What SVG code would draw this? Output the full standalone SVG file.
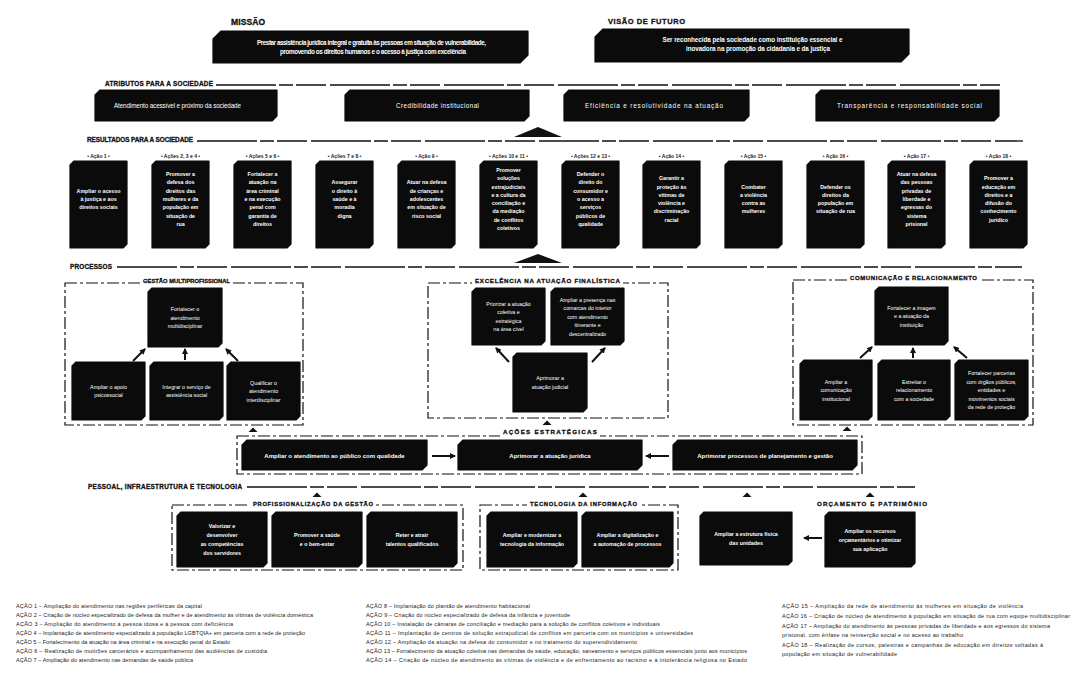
<svg xmlns="http://www.w3.org/2000/svg" width="1072" height="688" viewBox="0 0 1072 688">
<defs>
<style>
.box{fill:#0b0b0b;stroke:#0b0b0b;stroke-width:1.2;stroke-linejoin:round}
.lbl{font-family:"Liberation Sans",Arial,sans-serif;font-weight:bold;fill:#111;stroke:#111;stroke-width:0.3}
.cap{font-family:"Liberation Sans",Arial,sans-serif;font-size:5px;font-weight:bold;fill:#222;text-anchor:middle}
.tw{font-family:"Liberation Sans",Arial,sans-serif;fill:#fff;text-anchor:middle}
.b{font-weight:bold}
.sec{fill:none;stroke:#111;stroke-width:1.3;stroke-dasharray:60 3 14 3 30 4}
.grp{fill:none;stroke:#111;stroke-width:1.2;stroke-dasharray:12 3 3 3}
.leg{font-family:"Liberation Sans",Arial,sans-serif;font-size:5.5px;fill:#222}
.ar{fill:none;stroke:#111;stroke-width:2;marker-end:url(#ah)}
.tri{fill:#111}
</style>
<marker id="ah" viewBox="0 0 6 6" refX="5" refY="3" markerWidth="6" markerHeight="6" markerUnits="userSpaceOnUse" orient="auto"><path d="M0,0 L6,3 L0,6 Z" fill="#111"/></marker>
</defs>
<rect width="1072" height="688" fill="#fff"/>

<!-- section headers and separators -->
<g id="sections">
<text class="lbl" x="231" y="25" font-size="8.5" textLength="34">MISSÃO</text>
<text class="lbl" x="608" y="23.5" font-size="7.5" textLength="77">VISÃO DE FUTURO</text>
<text class="lbl" x="105" y="86" font-size="6.4" textLength="108">ATRIBUTOS PARA A SOCIEDADE</text>
<line class="sec" x1="216" y1="85" x2="1000" y2="85"/>
<text class="lbl" x="87" y="142" font-size="6.4" textLength="106">RESULTADOS PARA A SOCIEDADE</text>
<line class="sec" x1="197" y1="141" x2="1023" y2="141"/>
<text class="lbl" x="70" y="268.5" font-size="6.4" textLength="42">PROCESSOS</text>
<line class="sec" x1="117" y1="267" x2="1022" y2="267"/>
<text class="lbl" x="88" y="488.5" font-size="6.4" textLength="154">PESSOAL, INFRAESTRUTURA E TECNOLOGIA</text>
<line class="sec" x1="247" y1="487" x2="915" y2="487"/>
</g>

<!-- group containers -->
<g id="containers">
<rect class="grp" x="65" y="283" width="238" height="142"/>
<rect fill="#fff" x="140" y="276" width="93" height="9"/>
<text class="lbl" x="143" y="283" font-size="5.8" textLength="87">GESTÃO MULTIPROFISSIONAL</text>
<rect class="grp" x="428" y="283" width="240" height="135"/>
<rect fill="#fff" x="472" y="276" width="151" height="9"/>
<text class="lbl" x="475" y="283" font-size="6.2" textLength="145">EXCELÊNCIA NA ATUAÇÃO FINALÍSTICA</text>
<rect class="grp" x="793" y="280" width="240" height="145"/>
<rect fill="#fff" x="847" y="273" width="133" height="9"/>
<text class="lbl" x="850" y="279.5" font-size="6" textLength="127">COMUNICAÇÃO E RELACIONAMENTO</text>
<rect class="grp" x="237" y="436" width="625" height="38"/>
<rect fill="#fff" x="500" y="428" width="100" height="10"/>
<text class="lbl" x="503" y="434" font-size="6.2" textLength="94">AÇÕES ESTRATÉGICAS</text>
<rect class="grp" x="172" y="505" width="291" height="65"/>
<rect fill="#fff" x="250" y="499" width="126" height="9"/>
<text class="lbl" x="253" y="506" font-size="5.8" textLength="120">PROFISSIONALIZAÇÃO DA GESTÃO</text>
<rect class="grp" x="480" y="505" width="198" height="65"/>
<rect fill="#fff" x="527" y="499" width="113" height="9"/>
<text class="lbl" x="530" y="506" font-size="5.8" textLength="107">TECNOLOGIA DA INFORMAÇÃO</text>
<text class="lbl" x="817" y="506" font-size="6.2" textLength="110">ORÇAMENTO E PATRIMÔNIO</text>
</g>

<!-- mission / vision -->
<g id="missao">
<path class="box" d="M221,31 H528 V55 L520,63 H213 V39 Z"/>
<text class="tw b" x="371.5" y="45" font-size="6.3" textLength="229">Prestar assistência jurídica integral e gratuita às pessoas em situação de vulnerabilidade,</text>
<text class="tw b" x="373" y="53.5" font-size="6.3" textLength="186">promovendo os direitos humanos e o acesso à justiça com excelência</text>
</g>
<g id="visao">
<path class="box" d="M603,29 H909 V54 L901,62 H595 V37 Z"/>
<text class="tw b" x="752.5" y="42" font-size="6.3" textLength="180">Ser reconhecida pela sociedade como instituição essencial e</text>
<text class="tw b" x="758" y="50.5" font-size="6.3" textLength="144">inovadora na promoção da cidadania e da justiça</text>
</g>

<!-- attributes -->
<g id="atributo1"><path class="box" d="M100,90 H277 V116 L272,121 H95 V95 Z"/><text class="tw" x="177.5" y="108" font-size="6.3" textLength="127">Atendimento acessível e próximo da sociedade</text></g>
<g id="atributo2"><path class="box" d="M350,90 H529 V116 L524,121 H345 V95 Z"/><text class="tw" x="437.5" y="108" font-size="6.3" textLength="83">Credibilidade institucional</text></g>
<g id="atributo3"><path class="box" d="M569,90 H749 V116 L744,121 H564 V95 Z"/><text class="tw" x="654" y="108" font-size="6.3" textLength="138">Eficiência e resolutividade na atuação</text></g>
<g id="atributo4"><path class="box" d="M821,90 H999 V116 L994,121 H816 V95 Z"/><text class="tw" x="909.5" y="108" font-size="6.3" textLength="145">Transparência e responsabilidade social</text></g>

<!-- results row -->
<g id="r1"><path class="box" d="M74,161 H127 V244 L123,248 H70 V165 Z"/><text class="cap" x="98.5" y="158">• Ação 1 •</text><text class="tw b" font-size="5.3" x="98.5" y="192.7"><tspan x="98.5">Ampliar o acesso</tspan><tspan x="98.5" dy="8.3">à justiça e aos</tspan><tspan x="98.5" dy="8.3">direitos sociais</tspan></text></g>
<g id="r2"><path class="box" d="M156,161 H209 V244 L205,248 H152 V165 Z"/><text class="cap" x="180.5" y="158">• Ações 2, 3 e 4 •</text><text class="tw b" font-size="5.3" x="180.5" y="176.1"><tspan x="180.5">Promover a</tspan><tspan x="180.5" dy="8.3">defesa dos</tspan><tspan x="180.5" dy="8.3">direitos das</tspan><tspan x="180.5" dy="8.3">mulheres e da</tspan><tspan x="180.5" dy="8.3">população em</tspan><tspan x="180.5" dy="8.3">situação de</tspan><tspan x="180.5" dy="8.3">rua</tspan></text></g>
<g id="r3"><path class="box" d="M238,161 H291 V244 L287,248 H234 V165 Z"/><text class="cap" x="262.5" y="158">• Ações 5 e 6 •</text><text class="tw b" font-size="5.3" x="262.5" y="176.1"><tspan x="262.5">Fortalecer a</tspan><tspan x="262.5" dy="8.3">atuação na</tspan><tspan x="262.5" dy="8.3">área criminal</tspan><tspan x="262.5" dy="8.3">e na execução</tspan><tspan x="262.5" dy="8.3">penal com</tspan><tspan x="262.5" dy="8.3">garantia de</tspan><tspan x="262.5" dy="8.3">direitos</tspan></text></g>
<g id="r4"><path class="box" d="M320,161 H373 V244 L369,248 H316 V165 Z"/><text class="cap" x="344.5" y="158">• Ações 7 e 8 •</text><text class="tw b" font-size="5.3" x="344.5" y="184.4"><tspan x="344.5">Assegurar</tspan><tspan x="344.5" dy="8.3">o direito à</tspan><tspan x="344.5" dy="8.3">saúde e à</tspan><tspan x="344.5" dy="8.3">moradia</tspan><tspan x="344.5" dy="8.3">digna</tspan></text></g>
<g id="r5"><path class="box" d="M402,161 H455 V244 L451,248 H398 V165 Z"/><text class="cap" x="426.5" y="158">• Ação 9 •</text><text class="tw b" font-size="5.3" x="426.5" y="184.4"><tspan x="426.5">Atuar na defesa</tspan><tspan x="426.5" dy="8.3">de crianças e</tspan><tspan x="426.5" dy="8.3">adolescentes</tspan><tspan x="426.5" dy="8.3">em situação de</tspan><tspan x="426.5" dy="8.3">risco social</tspan></text></g>
<g id="r6"><path class="box" d="M484,161 H537 V244 L533,248 H480 V165 Z"/><text class="cap" x="508.5" y="158">• Ações 10 e 11 •</text><text class="tw b" font-size="5.3" x="508.5" y="171.95"><tspan x="508.5">Promover</tspan><tspan x="508.5" dy="8.3">soluções</tspan><tspan x="508.5" dy="8.3">extrajudiciais</tspan><tspan x="508.5" dy="8.3">e a cultura da</tspan><tspan x="508.5" dy="8.3">conciliação e</tspan><tspan x="508.5" dy="8.3">da mediação</tspan><tspan x="508.5" dy="8.3">de conflitos</tspan><tspan x="508.5" dy="8.3">coletivos</tspan></text></g>
<g id="r7"><path class="box" d="M566,161 H619 V244 L615,248 H562 V165 Z"/><text class="cap" x="590.5" y="158">• Ações 12 e 13 •</text><text class="tw b" font-size="5.3" x="590.5" y="176.1"><tspan x="590.5">Defender o</tspan><tspan x="590.5" dy="8.3">direito do</tspan><tspan x="590.5" dy="8.3">consumidor e</tspan><tspan x="590.5" dy="8.3">o acesso a</tspan><tspan x="590.5" dy="8.3">serviços</tspan><tspan x="590.5" dy="8.3">públicos de</tspan><tspan x="590.5" dy="8.3">qualidade</tspan></text></g>
<g id="r8"><path class="box" d="M647,161 H700 V244 L696,248 H643 V165 Z"/><text class="cap" x="671.5" y="158">• Ação 14 •</text><text class="tw b" font-size="5.3" x="671.5" y="180.25"><tspan x="671.5">Garantir a</tspan><tspan x="671.5" dy="8.3">proteção às</tspan><tspan x="671.5" dy="8.3">vítimas de</tspan><tspan x="671.5" dy="8.3">violência e</tspan><tspan x="671.5" dy="8.3">discriminação</tspan><tspan x="671.5" dy="8.3">racial</tspan></text></g>
<g id="r9"><path class="box" d="M729,161 H782 V244 L778,248 H725 V165 Z"/><text class="cap" x="753.5" y="158">• Ação 15 •</text><text class="tw b" font-size="5.3" x="753.5" y="188.55"><tspan x="753.5">Combater</tspan><tspan x="753.5" dy="8.3">a violência</tspan><tspan x="753.5" dy="8.3">contra as</tspan><tspan x="753.5" dy="8.3">mulheres</tspan></text></g>
<g id="r10"><path class="box" d="M811,161 H864 V244 L860,248 H807 V165 Z"/><text class="cap" x="835.5" y="158">• Ação 16 •</text><text class="tw b" font-size="5.3" x="835.5" y="188.55"><tspan x="835.5">Defender os</tspan><tspan x="835.5" dy="8.3">direitos da</tspan><tspan x="835.5" dy="8.3">população em</tspan><tspan x="835.5" dy="8.3">situação de rua</tspan></text></g>
<g id="r11"><path class="box" d="M892,161 H945 V244 L941,248 H888 V165 Z"/><text class="cap" x="916.5" y="158">• Ação 17 •</text><text class="tw b" font-size="5.3" x="916.5" y="176.1"><tspan x="916.5">Atuar na defesa</tspan><tspan x="916.5" dy="8.3">das pessoas</tspan><tspan x="916.5" dy="8.3">privadas de</tspan><tspan x="916.5" dy="8.3">liberdade e</tspan><tspan x="916.5" dy="8.3">egressas do</tspan><tspan x="916.5" dy="8.3">sistema</tspan><tspan x="916.5" dy="8.3">prisional</tspan></text></g>
<g id="r12"><path class="box" d="M974,161 H1027 V244 L1023,248 H970 V165 Z"/><text class="cap" x="998.5" y="158">• Ação 18 •</text><text class="tw b" font-size="5.3" x="998.5" y="180.25"><tspan x="998.5">Promover a</tspan><tspan x="998.5" dy="8.3">educação em</tspan><tspan x="998.5" dy="8.3">direitos e a</tspan><tspan x="998.5" dy="8.3">difusão do</tspan><tspan x="998.5" dy="8.3">conhecimento</tspan><tspan x="998.5" dy="8.3">jurídico</tspan></text></g>

<!-- processes: group 1 -->
<g id="g1-topo"><path class="box" d="M152,288 H222 V343 L218,347 H148 V292 Z"/><text class="tw" font-size="5.3" x="185" y="311"><tspan x="185">Fortalecer o</tspan><tspan x="185" dy="8.5">atendimento</tspan><tspan x="185" dy="8.5">multidisciplinar</tspan></text></g>
<g id="g1-a"><path class="box" d="M76,362 H145 V416 L141,420 H72 V366 Z"/><text class="tw" font-size="5.3" x="108.5" y="388.75"><tspan x="108.5">Ampliar o apoio</tspan><tspan x="108.5" dy="8.5">psicossocial</tspan></text></g>
<g id="g1-b"><path class="box" d="M154,362 H223 V416 L219,420 H150 V366 Z"/><text class="tw" font-size="5.3" x="186.5" y="388.75"><tspan x="186.5">Integrar o serviço de</tspan><tspan x="186.5" dy="8.5">assistência social</tspan></text></g>
<g id="g1-c"><path class="box" d="M231,362 H300 V416 L296,420 H227 V366 Z"/><text class="tw" font-size="5.3" x="263.5" y="384.5"><tspan x="263.5">Qualificar o</tspan><tspan x="263.5" dy="8.5">atendimento</tspan><tspan x="263.5" dy="8.5">interdisciplinar</tspan></text></g>
<!-- group 2 -->
<g id="g2-a"><path class="box" d="M476,288 H545 V341 L541,345 H472 V292 Z"/><text class="tw" font-size="5.3" x="508.5" y="305.75"><tspan x="508.5">Priorizar a atuação</tspan><tspan x="508.5" dy="8.5">coletiva e</tspan><tspan x="508.5" dy="8.5">estratégica</tspan><tspan x="508.5" dy="8.5">na área cível</tspan></text></g>
<g id="g2-b"><path class="box" d="M555,288 H624 V341 L620,345 H551 V292 Z"/><text class="tw" font-size="5.3" x="587.5" y="301.5"><tspan x="587.5">Ampliar a presença nas</tspan><tspan x="587.5" dy="8.5">comarcas do interior</tspan><tspan x="587.5" dy="8.5">com atendimento</tspan><tspan x="587.5" dy="8.5">itinerante e</tspan><tspan x="587.5" dy="8.5">descentralizado</tspan></text></g>
<g id="g2-c"><path class="box" d="M517,353 H587 V408 L583,412 H513 V357 Z"/><text class="tw" font-size="5.3" x="550" y="380.25"><tspan x="550">Aprimorar a</tspan><tspan x="550" dy="8.5">atuação judicial</tspan></text></g>
<!-- group 3 -->
<g id="g3-topo"><path class="box" d="M879,287 H948 V341 L944,345 H875 V291 Z"/><text class="tw" font-size="5.3" x="911.5" y="309.5"><tspan x="911.5">Fortalecer a imagem</tspan><tspan x="911.5" dy="8.5">e a atuação da</tspan><tspan x="911.5" dy="8.5">instituição</tspan></text></g>
<g id="g3-a"><path class="box" d="M804,360 H872 V416 L868,420 H800 V364 Z"/><text class="tw" font-size="5.3" x="836" y="383.5"><tspan x="836">Ampliar a</tspan><tspan x="836" dy="8.5">comunicação</tspan><tspan x="836" dy="8.5">institucional</tspan></text></g>
<g id="g3-b"><path class="box" d="M882,360 H950 V416 L946,420 H878 V364 Z"/><text class="tw" font-size="5.3" x="914" y="383.5"><tspan x="914">Estreitar o</tspan><tspan x="914" dy="8.5">relacionamento</tspan><tspan x="914" dy="8.5">com a sociedade</tspan></text></g>
<g id="g3-c"><path class="box" d="M959,360 H1028 V416 L1024,420 H955 V364 Z"/><text class="tw" font-size="5.3" x="991.5" y="375"><tspan x="991.5">Fortalecer parcerias</tspan><tspan x="991.5" dy="8.5">com órgãos públicos,</tspan><tspan x="991.5" dy="8.5">entidades e</tspan><tspan x="991.5" dy="8.5">movimentos sociais</tspan><tspan x="991.5" dy="8.5">da rede de proteção</tspan></text></g>

<!-- strategic actions -->
<g id="acao1"><path class="box" d="M247,440 H427 V465 L422,470 H242 V445 Z"/><text class="tw b" font-size="6" x="334.5" y="457.5">Ampliar o atendimento ao público com qualidade</text></g>
<g id="acao2"><path class="box" d="M463,440 H642 V465 L637,470 H458 V445 Z"/><text class="tw b" font-size="6" x="550" y="457.5">Aprimorar a atuação jurídica</text></g>
<g id="acao3"><path class="box" d="M678,440 H857 V465 L852,470 H673 V445 Z"/><text class="tw b" font-size="6" x="765" y="457.5">Aprimorar processos de planejamento e gestão</text></g>

<!-- people, infrastructure, technology -->
<g id="pg-a"><path class="box" d="M181,512 H267 V563 L263,567 H177 V516 Z"/><text class="tw b" font-size="5.3" x="222" y="528"><tspan x="222">Valorizar e</tspan><tspan x="222" dy="9">desenvolver</tspan><tspan x="222" dy="9">as competências</tspan><tspan x="222" dy="9">dos servidores</tspan></text></g>
<g id="pg-b"><path class="box" d="M276,512 H362 V563 L358,567 H272 V516 Z"/><text class="tw b" font-size="5.3" x="317" y="537"><tspan x="317">Promover a saúde</tspan><tspan x="317" dy="9">e o bem-estar</tspan></text></g>
<g id="pg-c"><path class="box" d="M371,512 H457 V563 L453,567 H367 V516 Z"/><text class="tw b" font-size="5.3" x="412" y="537"><tspan x="412">Reter e atrair</tspan><tspan x="412" dy="9">talentos qualificados</tspan></text></g>
<g id="ti-a"><path class="box" d="M491,512 H577 V563 L573,567 H487 V516 Z"/><text class="tw b" font-size="5.3" x="532" y="537"><tspan x="532">Ampliar e modernizar a</tspan><tspan x="532" dy="9">tecnologia da informação</tspan></text></g>
<g id="ti-b"><path class="box" d="M586,512 H673 V563 L669,567 H582 V516 Z"/><text class="tw b" font-size="5.3" x="627.5" y="537"><tspan x="627.5">Ampliar a digitalização e</tspan><tspan x="627.5" dy="9">a automação de processos</tspan></text></g>
<g id="infra"><path class="box" d="M704,512 H792 V561 L788,565 H700 V516 Z"/><text class="tw b" font-size="5.3" x="746" y="536"><tspan x="746">Ampliar a estrutura física</tspan><tspan x="746" dy="9">das unidades</tspan></text></g>
<g id="orcamento"><path class="box" d="M829,512 H915 V563 L911,567 H825 V516 Z"/><text class="tw b" font-size="5.3" x="870" y="532.5"><tspan x="870">Ampliar os recursos</tspan><tspan x="870" dy="9">orçamentários e otimizar</tspan><tspan x="870" dy="9">sua aplicação</tspan></text></g>

<!-- connectors -->
<g id="connectors">
<polygon class="tri" points="538,127 562,137 514,137"/>
<polygon class="tri" points="538,254 562,263 514,263"/>
<line class="ar" x1="133" y1="361" x2="145" y2="349"/>
<line class="ar" x1="185" y1="360" x2="185" y2="349"/>
<line class="ar" x1="238" y1="361" x2="226" y2="349"/>
<line class="ar" x1="509" y1="362" x2="496" y2="348"/>
<line class="ar" x1="592" y1="362" x2="605" y2="348"/>
<line class="ar" x1="860" y1="358" x2="872" y2="347"/>
<line class="ar" x1="913" y1="358" x2="913" y2="348"/>
<line class="ar" x1="967" y1="358" x2="954" y2="347"/>
<line class="ar" x1="432" y1="456" x2="455" y2="456" stroke-width="1.5"/>
<line class="ar" x1="669" y1="456" x2="646" y2="456" stroke-width="1.5"/>
<line class="ar" x1="822" y1="538" x2="804" y2="538" stroke-width="1.2"/>
<polygon class="tri" points="253,427.5 257.5,432 248.5,432"/>
<polygon class="tri" points="547,420.5 551.5,425 542.5,425"/>
<polygon class="tri" points="847,426.5 851.5,431 842.5,431"/>
<polygon class="tri" points="317,492.5 321.5,497 312.5,497"/>
<polygon class="tri" points="583,492.5 587.5,497 578.5,497"/>
<polygon class="tri" points="747,492.5 751.5,497 742.5,497"/>
<polygon class="tri" points="870,492.5 874.5,497 865.5,497"/>
</g>

<!-- legend -->
<g id="legenda">
<text class="leg" x="16" y="608" textLength="186">AÇÃO 1 – Ampliação do atendimento nas regiões periféricas da capital</text>
<text class="leg" x="16" y="617" textLength="297">AÇÃO 2 – Criação de núcleo especializado de defesa da mulher e de atendimento às vítimas de violência doméstica</text>
<text class="leg" x="16" y="626" textLength="217">AÇÃO 3 – Ampliação do atendimento à pessoa idosa e à pessoa com deficiência</text>
<text class="leg" x="16" y="635" textLength="289">AÇÃO 4 – Implantação de atendimento especializado à população LGBTQIA+ em parceria com a rede de proteção</text>
<text class="leg" x="16" y="644" textLength="214">AÇÃO 5 – Fortalecimento da atuação na área criminal e na execução penal do Estado</text>
<text class="leg" x="16" y="653" textLength="251">AÇÃO 6 – Realização de mutirões carcerários e acompanhamento das audiências de custódia</text>
<text class="leg" x="16" y="662" textLength="177">AÇÃO 7 – Ampliação do atendimento nas demandas de saúde pública</text>
<text class="leg" x="366" y="608" textLength="164">AÇÃO 8 – Implantação do plantão de atendimento habitacional</text>
<text class="leg" x="366" y="617" textLength="204">AÇÃO 9 – Criação do núcleo especializado de defesa da infância e juventude</text>
<text class="leg" x="366" y="626" textLength="294">AÇÃO 10 – Instalação de câmaras de conciliação e mediação para a solução de conflitos coletivos e individuais</text>
<text class="leg" x="366" y="635" textLength="327">AÇÃO 11 – Implantação de centros de solução extrajudicial de conflitos em parceria com os municípios e universidades</text>
<text class="leg" x="366" y="644" textLength="271">AÇÃO 12 – Ampliação da atuação na defesa do consumidor e no tratamento do superendividamento</text>
<text class="leg" x="366" y="653" textLength="381">AÇÃO 13 – Fortalecimento da atuação coletiva nas demandas de saúde, educação, saneamento e serviços públicos essenciais junto aos municípios</text>
<text class="leg" x="366" y="662" textLength="381">AÇÃO 14 – Criação de núcleo de atendimento às vítimas de violência e de enfrentamento ao racismo e à intolerância religiosa no Estado</text>
<text class="leg" x="782" y="608" textLength="241">AÇÃO 15 – Ampliação da rede de atendimento às mulheres em situação de violência</text>
<text class="leg" x="782" y="618" textLength="288">AÇÃO 16 – Criação de núcleo de atendimento à população em situação de rua com equipe multidisciplinar</text>
<text class="leg" x="782" y="628" textLength="268">AÇÃO 17 – Ampliação do atendimento às pessoas privadas de liberdade e aos egressos do sistema</text>
<text class="leg" x="782" y="637" textLength="181">prisional, com ênfase na reinserção social e no acesso ao trabalho</text>
<text class="leg" x="782" y="647" textLength="261">AÇÃO 18 – Realização de cursos, palestras e campanhas de educação em direitos voltadas à</text>
<text class="leg" x="782" y="656" textLength="115">população em situação de vulnerabilidade</text>
</g>
</svg>
